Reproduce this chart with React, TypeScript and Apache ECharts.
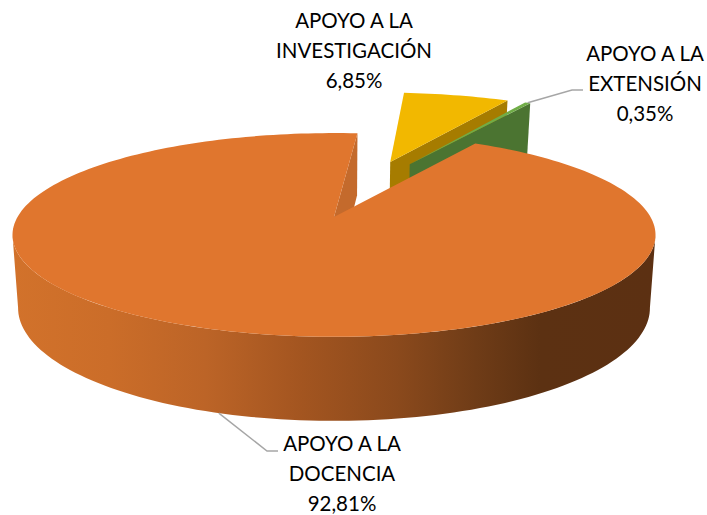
import React, { useEffect, useRef } from "react";
import * as echarts from "echarts";

const categories = ["APOYO A LA\nINVESTIGACIÓN", "APOYO A LA\nEXTENSIÓN", "APOYO A LA\nDOCENCIA"];
const shares = [6.85, 0.35, 92.81];

const topColors = ["#F2B800", "#70AD47", "#E0762E"];
const wallColors = ["#A67C00", "#4B7431", "#C46A2C"];
const labelCenters = [[354, 50], [645, 83], [342, 473]];

// projection of the tilted disc (perspective): y = (A v + B) / (1 + K v)
const CX = 334;
const K = -0.176;
const TOP = { rx: 316.5, a: 60.5, b: 217 };
const BOTTOM = { rx: 311, a: 58.8, b: 288 };
const START_DEG = 5;
const EXPLODE = 0.325;
const FRONT_FROM = 100;
const FRONT_TO = 260;

const total = shares.reduce((s, v) => s + v, 0);
const rad = (d: number) => (d * Math.PI) / 180;
const spans = shares.map((_, i) => {
  const before = shares.slice(0, i).reduce((s, v) => s + v, 0);
  const from = START_DEG + (before / total) * 360;
  const to = from + (shares[i] / total) * 360;
  return { from, to, mid: (from + to) / 2 };
});
const refMid = spans[2].mid;

function project(i: number, deg: number | null, plane: typeof TOP) {
  const m = rad(spans[i].mid);
  const r = rad(refMid);
  let u = EXPLODE * (Math.sin(m) - Math.sin(r));
  let v = EXPLODE * (-Math.cos(m) + Math.cos(r));
  if (deg !== null) {
    u += Math.sin(rad(deg));
    v += -Math.cos(rad(deg));
  }
  const d = 1 + K * v;
  return [CX + (plane.rx * u) / d, (plane.a * v + plane.b) / d];
}

function arc(i: number, from: number, to: number, plane: typeof TOP) {
  const n = Math.max(2, Math.ceil(Math.abs(to - from) / 1.5));
  const pts: number[][] = [];
  for (let k = 0; k <= n; k++) pts.push(project(i, from + ((to - from) * k) / n, plane));
  return pts;
}

const sideGradient = {
  type: "linear",
  x: 0,
  y: 0,
  x2: 1,
  y2: 0,
  colorStops: [
    { offset: 0, color: "#D2722B" },
    { offset: 0.15, color: "#CB6D29" },
    { offset: 0.3, color: "#BC6427" },
    { offset: 0.45, color: "#A35520" },
    { offset: 0.6, color: "#8A491C" },
    { offset: 0.72, color: "#6F3C17" },
    { offset: 0.82, color: "#5C3112" },
    { offset: 1, color: "#5C3012" },
  ],
};

const LINE = "#A6A6A6";
const FONT = "Lato, Carlito, sans-serif";

function renderItem(params: any) {
  const i = params.dataIndex;
  const { from, to, mid } = spans[i];
  const children: any[] = [];
  const poly = (points: number[][], fill: any) => ({
    type: "polygon",
    shape: { points },
    style: { fill },
    silent: true,
  });

  // wall along the clockwise-closing edge of the slice
  children.push(
    poly(
      [project(i, null, TOP), project(i, to, TOP), project(i, to, BOTTOM), project(i, null, BOTTOM)],
      wallColors[i]
    )
  );

  // visible outer wall of the large slice
  if (i === 2) {
    const rim = [...arc(i, FRONT_FROM, FRONT_TO, TOP), ...arc(i, FRONT_TO, FRONT_FROM, BOTTOM)];
    children.push(poly(rim, sideGradient));
  }

  children.push(poly([project(i, null, TOP), ...arc(i, from, to, TOP)], topColors[i]));

  // leader lines
  if (i === 1) {
    const s = project(i, mid, TOP);
    children.push({
      type: "polyline",
      shape: { points: [s, [572, 90], [583, 90]] },
      style: { stroke: LINE, lineWidth: 1.5, fill: null },
      silent: true,
    });
  }
  if (i === 2) {
    const s = project(i, mid, BOTTOM);
    children.push({
      type: "polyline",
      shape: { points: [s, [267, 451], [278, 451]] },
      style: { stroke: LINE, lineWidth: 1.5, fill: null },
      silent: true,
    });
  }

  const pct = shares[i].toFixed(2).replace(".", ",") + "%";
  children.push({
    type: "text",
    x: labelCenters[i][0],
    y: labelCenters[i][1],
    silent: true,
    z2: 10,
    style: {
      text: categories[i] + "\n" + pct,
      fill: "#000000",
      font: `20.5px ${FONT}`,
      fontFamily: FONT,
      fontSize: 20.5,
      lineHeight: 30,
      align: "center",
      verticalAlign: "middle",
    },
  });

  return { type: "group", children };
}

export default function App() {
  const ref = useRef<HTMLDivElement>(null);
  useEffect(() => {
    document.body.style.margin = "0";
    const chart = echarts.init(ref.current!, undefined, { renderer: "svg" });
    chart.setOption({
      animation: false,
      backgroundColor: "#ffffff",
      series: [
        {
          type: "custom",
          coordinateSystem: "none",
          data: shares.map((v, i) => ({ name: categories[i], value: v })),
          renderItem,
          silent: true,
        },
      ],
    });
    return () => chart.dispose();
  }, []);
  return <div ref={ref} style={{ width: 707, height: 515 }} />;
}
